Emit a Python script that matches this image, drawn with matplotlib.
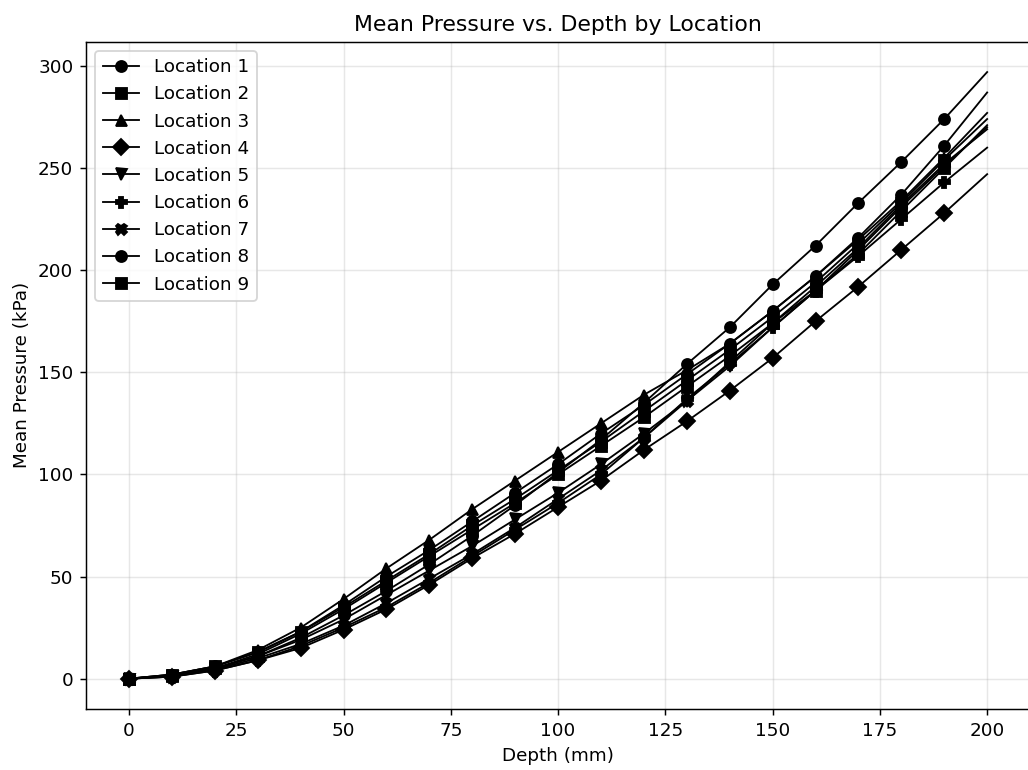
import matplotlib
matplotlib.use("Agg")
import matplotlib.pyplot as plt

depth = [0, 10, 20, 30, 40, 50, 60, 70, 80, 90, 100, 110, 120, 130, 140, 150, 160, 170, 180, 190, 200]

loc1 = [0, 1.5, 5, 11, 20, 31, 43, 56, 70, 85, 101, 117, 135, 154, 172, 193, 212, 233, 253, 274, 297]
loc2 = [0, 2, 6, 13, 23, 35, 48, 61, 75, 88, 102, 116, 131, 146, 161, 177, 194, 213, 233, 254, 274]
loc3 = [0, 2, 6, 14, 25, 39, 54, 68, 83, 97, 111, 125, 139, 151, 164, 180, 197, 215, 234, 255, 277]
loc4 = [0, 1, 4, 9, 15, 24, 34, 46, 59, 71, 84, 97, 112, 126, 141, 157, 175, 192, 210, 228, 247]
loc5 = [0, 1.5, 5, 11, 19, 29, 41, 53, 65, 78, 91, 105, 120, 136, 153, 172, 190, 210, 231, 251, 270]
loc6 = [0, 1, 4, 9, 16, 25, 35, 47, 60, 73, 86, 100, 118, 137, 154, 172, 190, 207, 225, 243, 260]
loc7 = [0, 1, 4.5, 10, 17, 26, 37, 49, 61, 74, 88, 102, 118, 136, 155, 174, 192, 211, 232, 252, 269]
loc8 = [0, 2, 6, 13, 23, 36, 50, 63, 77, 91, 105, 120, 134, 149, 164, 180, 197, 216, 237, 261, 287]
loc9 = [0, 1.5, 5, 12, 22, 34, 47, 60, 73, 86, 100, 114, 128, 143, 158, 174, 190, 208, 229, 250, 271]

series = [loc1, loc2, loc3, loc4, loc5, loc6, loc7, loc8, loc9]
labels = [f"Location {i}" for i in range(1, 10)]
markers = ['o', 's', '^', 'D', 'v', 'P', 'X', 'o', 's']

DPI = 132
fig = plt.figure(figsize=(1028 / DPI, 770 / DPI), dpi=DPI)
ax = fig.add_axes([0.0838, 0.0792, 0.9182, 0.8666])

for vals, lab, mk in zip(series, labels, markers):
    ax.plot(depth, vals, color='black', linewidth=1.0, marker=mk, markersize=6,
            markevery=slice(0, len(depth) - 1), label=lab)

ax.set_xlim(-10, 210)
ax.set_ylim(-14.85, 311.85)
ax.set_xticks([0, 25, 50, 75, 100, 125, 150, 175, 200])
ax.set_yticks([0, 50, 100, 150, 200, 250, 300])
ax.grid(True, alpha=0.3)
ax.set_title("Mean Pressure vs. Depth by Location", fontsize=12)
ax.set_xlabel("Depth (mm)")
ax.set_ylabel("Mean Pressure (kPa)")
ax.legend(loc='upper left')

fig.savefig("out.png", dpi=DPI)
